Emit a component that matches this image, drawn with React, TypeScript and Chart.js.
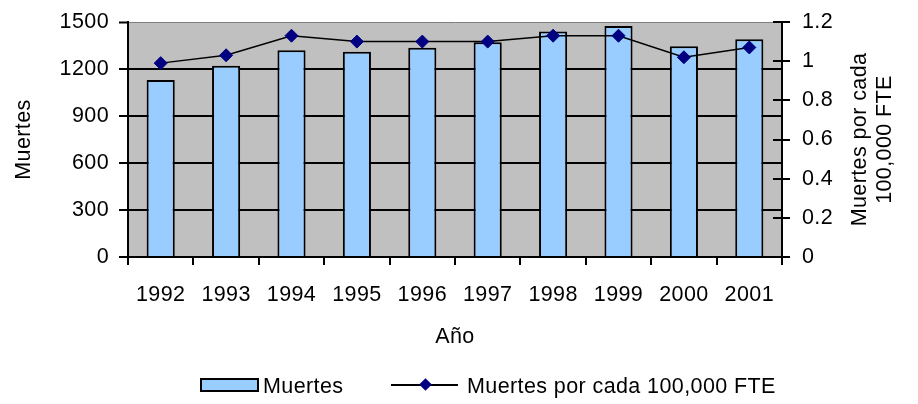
import React, { useEffect, useRef } from 'react';
import { Chart, registerables } from 'chart.js';

Chart.register(...registerables);

const categories = ['1992', '1993', '1994', '1995', '1996', '1997', '1998', '1999', '2000', '2001'];
const muertes = [1130, 1220, 1320, 1310, 1335, 1370, 1440, 1475, 1345, 1390];
const tasa = [0.99, 1.03, 1.13, 1.1, 1.1, 1.1, 1.13, 1.13, 1.02, 1.07];
const leftTickLabels = ['0', '300', '600', '900', '1200', '1500'];
const rightTickLabels = ['0', '0.2', '0.4', '0.6', '0.8', '1', '1.2'];
const xTitle = 'Año';
const leftTitle = 'Muertes';
const rightTitle = ['Muertes por cada', '100,000 FTE'];
const barLabel = 'Muertes';
const lineLabel = 'Muertes por cada 100,000 FTE';

const FONT = '"Liberation Sans", Arial, sans-serif';
const FS = 21.5;
const LS = '0.4px';
const font = { family: FONT, size: FS };

const spacingPlugin = {
  id: 'spacing',
  beforeUpdate(c: any) { c.ctx.letterSpacing = LS; },
  beforeLayout(c: any) { c.ctx.letterSpacing = LS; },
  beforeDraw(c: any) { c.ctx.letterSpacing = LS; },
};

const bgPlugin = {
  id: 'bg',
  beforeDraw(c: any) {
    const { ctx, chartArea: a } = c;
    ctx.save();
    ctx.fillStyle = '#C0C0C0';
    ctx.fillRect(a.left, a.top, a.right - a.left, a.bottom - a.top);
    ctx.restore();
  },
};

const extrasPlugin = {
  id: 'extras',
  afterDraw(c: any) {
    const { ctx, chartArea: a } = c;
    const y1 = c.scales.y1;
    ctx.save();
    ctx.strokeStyle = '#000';
    ctx.lineWidth = 2;
    y1.ticks.forEach((t: any) => {
      const py = Math.round(y1.getPixelForValue(t.value));
      ctx.beginPath();
      ctx.moveTo(a.right - 9, py);
      ctx.lineTo(a.right, py);
      ctx.stroke();
    });
    ctx.font = `${FS}px ${FONT}`;
    ctx.letterSpacing = LS;
    ctx.fillStyle = '#000';
    ctx.textAlign = 'center';
    ctx.textBaseline = 'middle';
    const cy = (a.top + a.bottom) / 2;
    const xs = [a.right + 78, a.right + 103];
    rightTitle.forEach((t, i) => {
      ctx.save();
      ctx.translate(xs[i], cy);
      ctx.rotate(-Math.PI / 2);
      ctx.fillText(t, 0, 0);
      ctx.restore();
    });
    ctx.restore();
  },
};

export default function App() {
  const ref = useRef<HTMLCanvasElement>(null);
  useEffect(() => {
    document.body.style.margin = '0';
    const canvas = ref.current!;
    const chart = new Chart(canvas, {
      type: 'bar',
      data: {
        labels: categories,
        datasets: [
          {
            type: 'line',
            label: lineLabel,
            data: tasa,
            yAxisID: 'y1',
            borderColor: '#000',
            borderWidth: 1.5,
            pointStyle: 'rectRot',
            pointRadius: 6.5,
            pointBackgroundColor: '#000080',
            pointBorderColor: '#000080',
            pointBorderWidth: 1,
            order: 0,
          } as any,
          {
            type: 'bar',
            label: barLabel,
            data: muertes,
            yAxisID: 'y',
            backgroundColor: '#99CCFF',
            borderColor: '#000',
            borderWidth: 2,
            barPercentage: 0.43,
            categoryPercentage: 1,
            order: 1,
          } as any,
        ],
      },
      options: {
        responsive: false,
        animation: false,
        devicePixelRatio: 1,
        layout: { autoPadding: false, padding: { top: 22, left: 0, right: 0, bottom: 0 } },
        plugins: { legend: { display: false }, tooltip: { enabled: false } },
        scales: {
          x: {
            grid: { offset: true, drawOnChartArea: false, drawTicks: true, tickLength: 8, color: '#000', lineWidth: 2 },
            border: { display: true, color: '#000', width: 2 },
            ticks: { color: '#000', font, padding: 17, maxRotation: 0, autoSkip: false },
            title: { display: true, text: xTitle, color: '#000', font, padding: { top: 0, bottom: 54 } },
            afterFit(s: any) { s.height = 147; s.paddingLeft = 0; s.paddingRight = 0; },
          },
          y: {
            position: 'left',
            min: 0,
            max: 1500,
            ticks: {
              stepSize: 300,
              color: '#000',
              font,
              padding: 10,
              callback: (_v: any, i: number) => leftTickLabels[i],
            },
            grid: {
              color: (ctx: any) => (ctx.tick && ctx.tick.value === 1500 ? '#808080' : '#000'),
              lineWidth: (ctx: any) => (ctx.tick && ctx.tick.value === 1500 ? 1 : 2),
              tickColor: '#000',
              tickWidth: 2,
              tickLength: 9,
              drawTicks: true,
            },
            border: { display: true, color: '#000', width: 2 },
            title: { display: true, text: leftTitle, color: '#000', font, padding: { top: 11, bottom: 0 } },
            afterFit(s: any) { s.width = 128; s.paddingTop = 0; s.paddingBottom = 0; },
          },
          y1: {
            position: 'right',
            min: 0,
            max: 1.2,
            ticks: {
              stepSize: 0.2,
              color: '#000',
              font,
              padding: 12,
              callback: (_v: any, i: number) => rightTickLabels[i],
            },
            grid: { drawOnChartArea: false, drawTicks: true, tickLength: 8, color: '#000', lineWidth: 2 },
            border: { display: true, color: '#000', width: 2 },
            afterFit(s: any) { s.width = 136; s.paddingTop = 0; s.paddingBottom = 0; },
          },
        },
      } as any,
      plugins: [spacingPlugin, bgPlugin, extrasPlugin],
    });
    return () => chart.destroy();
  }, []);

  const textStyle: React.CSSProperties = {
    position: 'absolute',
    top: 373,
    fontFamily: FONT,
    fontSize: FS,
    letterSpacing: LS,
    lineHeight: '26px',
    color: '#000',
    whiteSpace: 'nowrap',
  };

  return (
    <div style={{ position: 'fixed', left: 0, top: 0, width: 918, height: 404, background: '#fff' }}>
      <canvas ref={ref} width={918} height={404} style={{ display: 'block', width: 918, height: 404 }} />
      <div style={{ position: 'absolute', left: 200, top: 378, width: 55, height: 10, background: '#99CCFF', border: '2px solid #000' }} />
      <div style={{ ...textStyle, left: 263 }}>{barLabel}</div>
      <div style={{ position: 'absolute', left: 391, top: 384, width: 67, height: 2, background: '#000' }} />
      <div style={{ position: 'absolute', left: 421, top: 380, width: 9, height: 9, background: '#000080', transform: 'rotate(45deg)' }} />
      <div style={{ ...textStyle, left: 467 }}>{lineLabel}</div>
    </div>
  );
}
